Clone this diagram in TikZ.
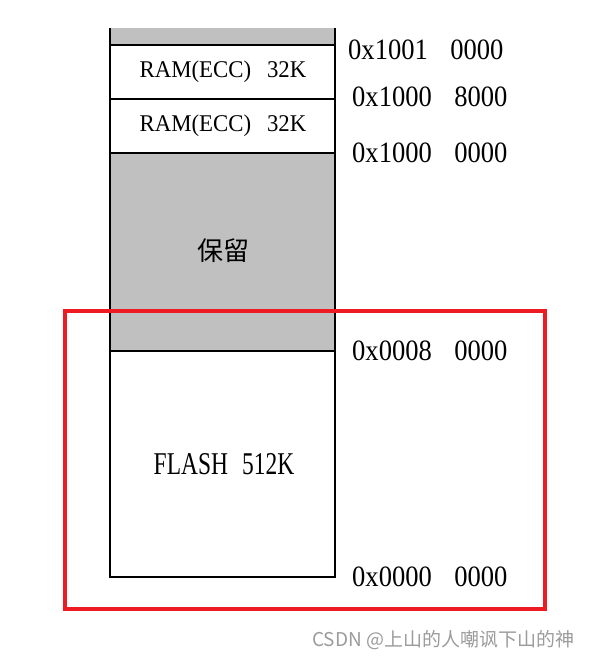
\documentclass[tikz,border=0pt]{standalone}
\usepackage{fontspec}
\setmainfont{Liberation Serif}
\newfontfamily\cjk{Noto Sans CJK SC}
\definecolor{resgray}{RGB}{192,192,192}
\definecolor{boxred}{RGB}{237,28,36}
\definecolor{wmgray}{RGB}{155,155,155}
\tikzset{
  addr/.style={anchor=west, inner sep=0pt, font=\fontsize{29.5}{32}\selectfont},
  blk/.style={inner sep=0pt, font=\fontsize{24}{26}\selectfont},
  hline/.style={line width=2.8pt},
  vline/.style={line width=2pt},
}
\newcommand{\narrow}[2]{\scalebox{#1}[1]{#2}}
\begin{document}
\begin{tikzpicture}[x=1pt,y=-1pt]
\useasboundingbox (0,0) rectangle (605,663);
% fills
\fill[resgray] (110,28) rectangle (335,45);
\fill[resgray] (110,153) rectangle (335,351);
% horizontals
\draw[hline] (109,45) -- (336,45);
\draw[hline] (109,99) -- (336,99);
\draw[hline] (109,153) -- (336,153);
\draw[hline] (109,351) -- (336,351);
\draw[hline] (109,577) -- (336,577);
% verticals
\draw[vline] (110,28) -- (110,578);
\draw[vline] (335,28) -- (335,578);
% block labels
\node[blk] (ram1) at (223,72) {\narrow{0.95}{RAM(ECC)\hspace{0.7em}32K}};
\node[blk] (ram2) at (223,126) {\narrow{0.95}{RAM(ECC)\hspace{0.7em}32K}};
\node[inner sep=0pt, font=\cjk\fontsize{26}{30}\selectfont] (res) at (223,251) {保留};
\node[inner sep=0pt, font=\fontsize{31.7}{34}\selectfont] (flash) at (224,464) {\narrow{0.74}{FLASH\hspace{0.6em}512K}};
% addresses
\node[addr] (a1) at (348,50) {\narrow{0.9}{0x1001\hspace{0.85em}0000}};
\node[addr] (a2) at (352,97) {\narrow{0.9}{0x1000\hspace{0.85em}8000}};
\node[addr] (a3) at (352,153) {\narrow{0.9}{0x1000\hspace{0.85em}0000}};
\node[addr] (a4) at (352,351) {\narrow{0.9}{0x0008\hspace{0.85em}0000}};
\node[addr] (a5) at (352,577) {\narrow{0.9}{0x0000\hspace{0.85em}0000}};
% red highlight
\draw[boxred, line width=4pt] (65,311) rectangle (545,609);
% watermark
\node[anchor=west, inner sep=0pt, text=wmgray, font=\cjk\fontsize{19}{22}\selectfont] (wm) at (312,640) {CSDN @上山的人嘲讽下山的神};
\end{tikzpicture}
\end{document}
